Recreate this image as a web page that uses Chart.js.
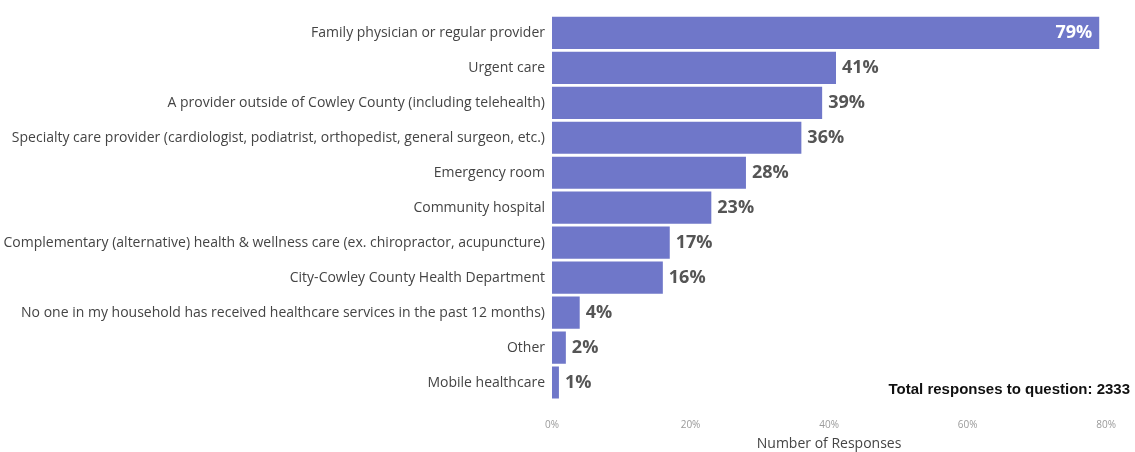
<!DOCTYPE html>
<html>
<head>
<meta charset="utf-8">
<script src="https://cdn.jsdelivr.net/npm/chart.js@4/dist/chart.umd.min.js"></script>
<style>
  html, body { margin: 0; padding: 0; background: #fff; }
  #wrap { width: 1135px; height: 452px; position: relative; }
</style>
</head>
<body>
<div id="wrap"><canvas id="chart"></canvas></div>
<script>
  // survey answers, top to bottom
  const categories = [
    'Family physician or regular provider',
    'Urgent care',
    'A provider outside of Cowley County (including telehealth)',
    'Specialty care provider (cardiologist, podiatrist, orthopedist, general surgeon, etc.)',
    'Emergency room',
    'Community hospital',
    'Complementary (alternative) health & wellness care (ex. chiropractor, acupuncture)',
    'City-Cowley County Health Department',
    'No one in my household has received healthcare services in the past 12 months)',
    'Other',
    'Mobile healthcare'
  ];
  const percentValues = [79, 41, 39, 36, 28, 23, 17, 16, 4, 2, 1];
  const xTicks = [0, 20, 40, 60, 80];
  const totalNote = 'Total responses to question: 2333';

  // draws the % labels next to bars + the total note
  const barLabels = {
    id: 'barLabels',
    afterDatasetsDraw(chart) {
      const ctx = chart.ctx;
      const meta = chart.getDatasetMeta(0);
      ctx.save();
      ctx.font = 'bold 18px "Open Sans"';
      ctx.textBaseline = 'middle';
      meta.data.forEach((bar, i) => {
        const txt = percentValues[i] + '%';
        if (percentValues[i] > 70) {
          ctx.fillStyle = '#ffffff';
          ctx.textAlign = 'right';
          ctx.fillText(txt, bar.x - 7, bar.y);
        } else {
          ctx.fillStyle = '#555555';
          ctx.textAlign = 'left';
          ctx.fillText(txt, bar.x + 6, bar.y);
        }
      });
      ctx.font = 'bold 15px "Liberation Sans"';
      ctx.fillStyle = '#111111';
      ctx.textAlign = 'right';
      ctx.fillText(totalNote, 1130, meta.data[meta.data.length - 1].y + 7);
      ctx.restore();
    }
  };

  const data = {
    labels: categories,
    datasets: [{
      data: percentValues,
      backgroundColor: '#6f77c9',
      borderWidth: 0,
      barPercentage: 0.92,
      categoryPercentage: 1.0
    }]
  };

  const options = {
    indexAxis: 'y',
    responsive: false,
    animation: false,
    layout: { padding: { top: 6, right: 26, bottom: 0, left: 0 } },
    plugins: {
      legend: { display: false },
      tooltip: { enabled: false }
    },
    scales: {
      x: {
        min: 0,
        max: 80,
        grid: { display: false, drawTicks: false },
        border: { display: false },
        afterBuildTicks(scale) {
          scale.ticks = xTicks.map(v => ({ value: v }));
        },
        afterFit(scale) { scale.height = 52; },
        ticks: {
          padding: 19,
          color: '#9a9a9a',
          font: { family: 'Open Sans', size: 10 },
          callback: v => v + '%'
        },
        title: {
          display: true,
          text: 'Number of Responses',
          color: '#444',
          font: { family: 'Open Sans', size: 14 },
          padding: { top: 4, bottom: 0 }
        }
      },
      y: {
        grid: { display: false, drawTicks: false },
        border: { display: false },
        afterFit(scale) { scale.width = 552; },
        ticks: {
          padding: 7,
          autoSkip: false,
          color: '#444',
          font: { family: 'Open Sans', size: 14 }
        }
      }
    }
  };

  const canvas = document.getElementById('chart');
  canvas.width = 1135;
  canvas.height = 452;
  new Chart(canvas.getContext('2d'), {
    type: 'bar',
    data: data,
    options: options,
    plugins: [barLabels]
  });
</script>
</body>
</html>
